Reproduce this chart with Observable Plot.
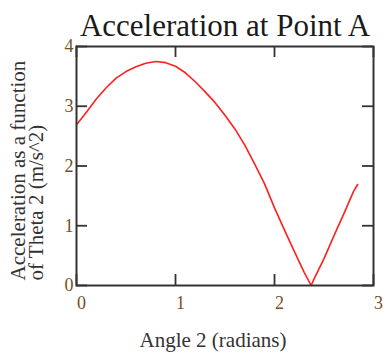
<!DOCTYPE html>
<html>
<head>
<meta charset="utf-8">
<script src="https://cdn.jsdelivr.net/npm/d3@7"></script>
<script src="https://cdn.jsdelivr.net/npm/@observablehq/plot@0.6"></script>
<style>
  body { margin: 0; background: #fff; }
</style>
</head>
<body>
<div id="chart"></div>
<script>
// Crank angle (rad) and magnitude of the acceleration of point A (m/s^2)
const theta = [0, 0.1, 0.2, 0.3, 0.4, 0.5, 0.6, 0.7, 0.8, 0.9, 1.0, 1.1, 1.2, 1.3, 1.4,
               1.5, 1.6, 1.7, 1.8, 1.9, 2.0, 2.1, 2.2, 2.3, 2.37, 2.4, 2.5, 2.6, 2.7, 2.8, 2.84];
const accel = [2.69, 2.90, 3.12, 3.31, 3.47, 3.58, 3.66, 3.72, 3.75, 3.73, 3.67, 3.56, 3.41, 3.24, 3.06,
               2.85, 2.62, 2.35, 2.03, 1.70, 1.30, 0.93, 0.57, 0.22, 0.0, 0.11, 0.45, 0.83, 1.20, 1.58, 1.69];

const xTicks = [0, 1, 2, 3];
const yTicks = [0, 1, 2, 3, 4];

const title = "Acceleration at Point A";
const xLabel = "Angle 2 (radians)";
const yLabelLines = ["Acceleration as a function", "of Theta 2 (m/s^2)"];

const W = 386, H = 360;
const mt = 46, mb = 75, ml = 76, mr = 13;
const frameH = H - mt - mb, frameW = W - ml - mr;
const tickLen = 11;
const axisColor = "#333";
const tickLabelColor = "#74501f";

const data = theta.map((t, i) => ({theta: t, a: accel[i]}));

const chart = Plot.plot({
  width: W,
  height: H,
  marginTop: mt,
  marginBottom: mb,
  marginLeft: ml,
  marginRight: mr,
  style: {fontFamily: "'Liberation Serif', 'Times New Roman', serif", background: "#fff"},
  x: {domain: [0, 3]},
  y: {domain: [0, 4]},
  marks: [
    Plot.line(data, {x: "theta", y: "a", stroke: "#ff1f1f", strokeWidth: 1.6}),
    // inward tick marks on all four sides of the box
    Plot.ruleX(xTicks, {insetTop: frameH - tickLen, stroke: axisColor, strokeWidth: 1.8}),
    Plot.ruleX(xTicks, {insetBottom: frameH - tickLen, stroke: axisColor, strokeWidth: 1.8}),
    Plot.ruleY(yTicks, {insetRight: frameW - tickLen, stroke: axisColor, strokeWidth: 1.8}),
    Plot.ruleY(yTicks, {insetLeft: frameW - tickLen, stroke: axisColor, strokeWidth: 1.8}),
    Plot.frame({stroke: axisColor, strokeWidth: 2}),
    Plot.axisX(xTicks, {tickSize: 0, tickPadding: 11, fontSize: 18, fill: tickLabelColor, dx: 5,
                        tickFormat: d => String(d), label: null}),
    Plot.axisY(yTicks, {tickSize: 0, tickPadding: 3, fontSize: 18, fill: tickLabelColor,
                        tickFormat: d => String(d), label: null}),
    Plot.text([title], {frameAnchor: "top", dy: -33, fontSize: 31, fill: "#1a1a1a"}),
    Plot.text([xLabel], {frameAnchor: "bottom", dy: 61, dx: -12, fontSize: 21, fill: "#333"}),
    Plot.text([yLabelLines.join("\n")], {
      frameAnchor: "bottom-left", textAnchor: "start", lineAnchor: "middle",
      rotate: -90, dx: -48, dy: -5,
      fontSize: 21, lineHeight: 0.86, fill: "#333"
    })
  ]
});

document.getElementById("chart").append(chart);
</script>
</body>
</html>
